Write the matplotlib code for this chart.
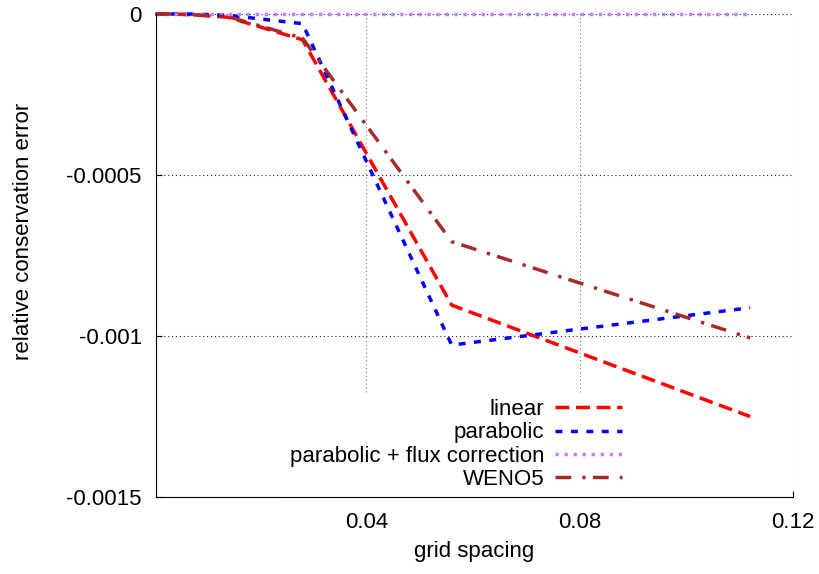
import matplotlib as mpl
mpl.use('Agg')
import matplotlib.pyplot as plt

plt.rcParams['font.family'] = ['Liberation Sans', 'DejaVu Sans']
plt.rcParams['font.size'] = 16
plt.rcParams['lines.scale_dashes'] = False

# grid spacing (halving sequence) and relative conservation error
dx = [0.0004375, 0.000875, 0.00175, 0.0035, 0.007, 0.014, 0.028, 0.056, 0.112]
err_linear = [0, 0, 0, 0, -0.000002, -0.00001, -0.00008, -0.000904, -0.00125]
err_parabolic = [0, 0, 0, 0, 0, -0.000004, -0.00003, -0.001028, -0.000912]
err_flux = [0, 0, 0, 0, 0, 0, 0, 0, 0]
err_weno5 = [0, 0, 0, 0, -0.000002, -0.000008, -0.000075, -0.000707, -0.001006]

xticks = [0.04, 0.08, 0.12]
yticks = [0, -0.0005, -0.001, -0.0015]
yticklabels = ['0', '-0.0005', '-0.001', '-0.0015']

fig = plt.figure(figsize=(8.19, 5.74), dpi=100)
ax = fig.add_axes([0.190, 0.134, 0.778, 0.8416])

lw = 2.5
ax.plot(dx, err_linear, color='#ff0000', lw=lw, dashes=(10, 4.8), label='linear', clip_on=False)
ax.plot(dx, err_parabolic, color='#0000ff', lw=lw, dashes=(5, 6.1), label='parabolic', clip_on=False)
ax.plot(dx, err_flux, color='#c080ff', lw=lw, dashes=(2.4, 4.1),
        label='parabolic + flux correction', clip_on=False)
ax.plot(dx, err_weno5, color='#a52a2a', lw=lw, dashes=(11.3, 8, 2.4, 5.3), label='WENO5', clip_on=False)

ax.set_xlim(dx[0], 0.12)
ax.set_ylim(-0.0015, 0)
ax.set_xticks(xticks)
ax.set_xticklabels(['0.04', '0.08', '0.12'])
ax.set_yticks(yticks)
ax.set_yticklabels(yticklabels)

ax.spines['top'].set_visible(False)
ax.spines['right'].set_visible(False)
ax.tick_params(direction='in', length=4.5, width=0.8, pad=10)
ax.tick_params(axis='x', pad=11)

ax.set_axisbelow(True)
ax.yaxis.grid(True, color='#222222', lw=0.8, dashes=(0.8, 2))
ax.xaxis.grid(True, color='#777777', lw=0.8, dashes=(0.8, 2))

ax.set_xlabel('grid spacing', va='center')
ax.xaxis.set_label_coords(0.5, -0.112)
ax.set_ylabel('relative conservation error', va='center')
ax.yaxis.set_label_coords(-0.208, 0.549)

leg = ax.legend(loc='lower right', bbox_to_anchor=(0.76, -0.022), markerfirst=False,
                handlelength=3.0, handletextpad=0.5, labelspacing=0.1,
                borderpad=0.3, frameon=True, fancybox=False)
leg.get_frame().set_edgecolor('none')
leg.get_frame().set_facecolor('white')
leg.get_frame().set_alpha(1)
leg.set_zorder(2.2)

plt.savefig('out.png', dpi=100)
